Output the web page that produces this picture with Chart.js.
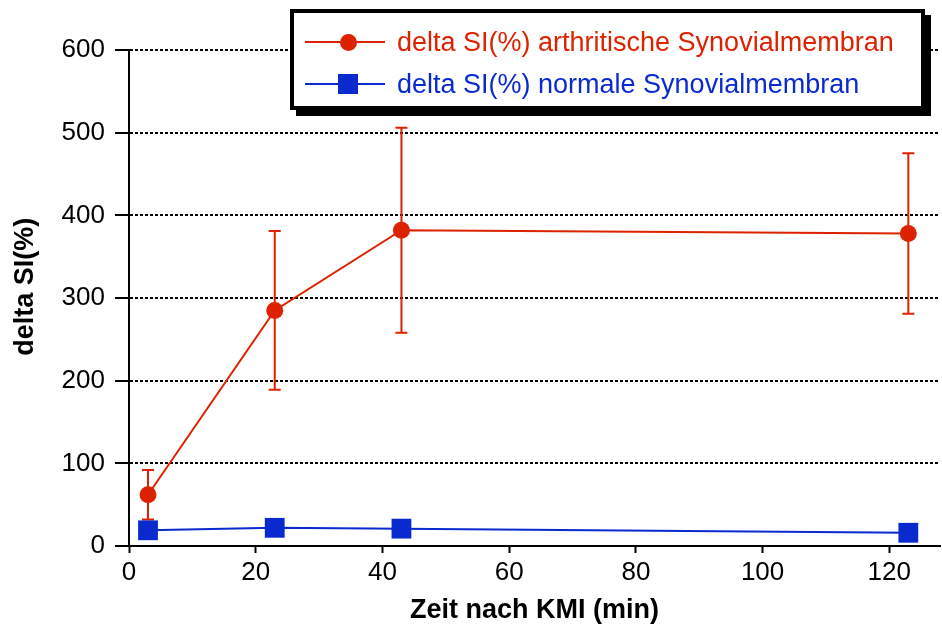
<!DOCTYPE html>
<html>
<head>
<meta charset="utf-8">
<script src="https://cdn.jsdelivr.net/npm/chart.js@4/dist/chart.umd.min.js"></script>
<style>
  body { margin: 0; background: #fff; }
  #wrap { position: relative; width: 942px; height: 628px; }
  #legend {
    position: absolute; left: 290px; top: 9px; width: 627px; height: 93px;
    border: 4px solid #000; box-shadow: 6px 6px 0 #000; background: #fff;
    font-family: "Liberation Sans", Arial, sans-serif; font-size: 27px;
  }
  .fila { position: absolute; left: 0; height: 32px; width: 100%; }
  .fila .linea { position: absolute; left: 11px; width: 80px; top: 15px; height: 2px; }
  .fila .marca { position: absolute; }
  .fila span { position: absolute; left: 103px; top: 0; line-height: 32px; white-space: nowrap; }
</style>
</head>
<body>
<div id="wrap">
  <canvas id="grafica"></canvas>
  <div id="legend"></div>
</div>
<script>
// ------------- Datos -------------
const minutos = [3, 23, 43, 123];

const artritisMedia = [62, 285, 382, 378];
const artritisError = [30, 96, 124, 97];

const normalMedia = [19, 22, 21, 16];
const normalError = [3, 4, 4, 4];

const etiquetas = [
  'delta SI(%) arthritische Synovialmembran',
  'delta SI(%) normale Synovialmembran'
];

const rojo = '#dd2200';
const azul = '#0a2ad0';

Chart.defaults.font.family = "'Liberation Sans', Arial, sans-serif";
Chart.defaults.color = '#000';

// puntos {x, y} a partir de los arrays
const puntos = (xs, ys) => xs.map((x, i) => ({ x: x, y: ys[i] }));

// Plugin para las barras de error (se dibujan antes que los puntos)
const barrasError = {
  id: 'barrasError',
  beforeDatasetsDraw(chart) {
    const ctx = chart.ctx;
    const xs = chart.scales.x;
    const ys = chart.scales.y;
    chart.data.datasets.forEach((ds) => {
      ctx.save();
      ctx.strokeStyle = ds.borderColor;
      ctx.lineWidth = 2;
      ds.data.forEach((p, i) => {
        const err = ds.errores[i];
        const px = xs.getPixelForValue(p.x);
        const arriba = ys.getPixelForValue(p.y + err);
        const abajo = ys.getPixelForValue(p.y - err);
        ctx.beginPath();
        ctx.moveTo(px, arriba);
        ctx.lineTo(px, abajo);
        ctx.moveTo(px - 6, arriba);
        ctx.lineTo(px + 6, arriba);
        ctx.moveTo(px - 6, abajo);
        ctx.lineTo(px + 6, abajo);
        ctx.stroke();
      });
      ctx.restore();
    });
  }
};

const data = {
  datasets: [{
      label: etiquetas[0],
      data: puntos(minutos, artritisMedia),
      errores: artritisError,
      borderColor: rojo,
      backgroundColor: rojo,
      borderWidth: 2,
      pointStyle: 'circle',
      pointRadius: 8.5,
      pointBorderWidth: 0,
      tension: 0
    },
    {
      label: etiquetas[1],
      data: puntos(minutos, normalMedia),
      errores: normalError,
      borderColor: azul,
      backgroundColor: azul,
      borderWidth: 2,
      pointStyle: 'rect',
      pointRadius: 14,
      pointBorderWidth: 0,
      tension: 0
    }
  ]
};

const config = {
  type: 'line',
  data: data,
  options: {
    responsive: true,
    maintainAspectRatio: false,
    animation: false,
    events: [],
    layout: { autoPadding: false, padding: { top: 50, right: 2, left: 0, bottom: 0 } },
    plugins: { legend: { display: false }, tooltip: { enabled: false } },
    scales: {
      x: {
        type: 'linear',
        min: 0,
        max: 128,
        afterFit: (s) => { s.height = 82; },
        ticks: { stepSize: 20, includeBounds: false, font: { size: 26 }, padding: 4, maxRotation: 0 },
        grid: { drawOnChartArea: false, tickLength: 7, tickWidth: 2, tickColor: '#000' },
        border: { color: '#000', width: 2 },
        title: { display: true, text: 'Zeit nach KMI (min)', font: { size: 27, weight: 'bold' }, padding: { top: 0, bottom: 1 } }
      },
      y: {
        min: 0,
        max: 600,
        afterFit: (s) => { s.width = 129; },
        ticks: { stepSize: 100, font: { size: 26 }, padding: 10 },
        grid: { color: '#000', lineWidth: 2, tickLength: 14, tickWidth: 2, tickColor: '#000' },
        border: { color: '#000', width: 2, dash: [3, 2] },
        // espacios al inicio para subir un poco el titulo
        title: { display: true, text: '   delta SI(%)', font: { size: 27, weight: 'bold' }, padding: { top: 9, bottom: 0 } }
      }
    }
  },
  plugins: [barrasError]
};

new Chart(document.getElementById('grafica'), config);

// ----------- Leyenda en HTML -----------
const leyenda = document.getElementById('legend');
const centros = [29, 71];
data.datasets.forEach((ds, i) => {
  const fila = document.createElement('div');
  fila.className = 'fila';
  fila.style.top = (centros[i] - 16) + 'px';
  const tam = ds.pointStyle === 'rect' ? 20 : 17;
  const radio = ds.pointStyle === 'rect' ? '0' : '50%';
  fila.innerHTML =
    `<div class="linea" style="background:${ds.borderColor}"></div>` +
    `<div class="marca" style="left:${54 - tam / 2}px;top:${16 - tam / 2}px;width:${tam}px;height:${tam}px;border-radius:${radio};background:${ds.backgroundColor}"></div>` +
    `<span style="color:${ds.borderColor}">${ds.label}</span>`;
  leyenda.appendChild(fila);
});
</script>
</body>
</html>
